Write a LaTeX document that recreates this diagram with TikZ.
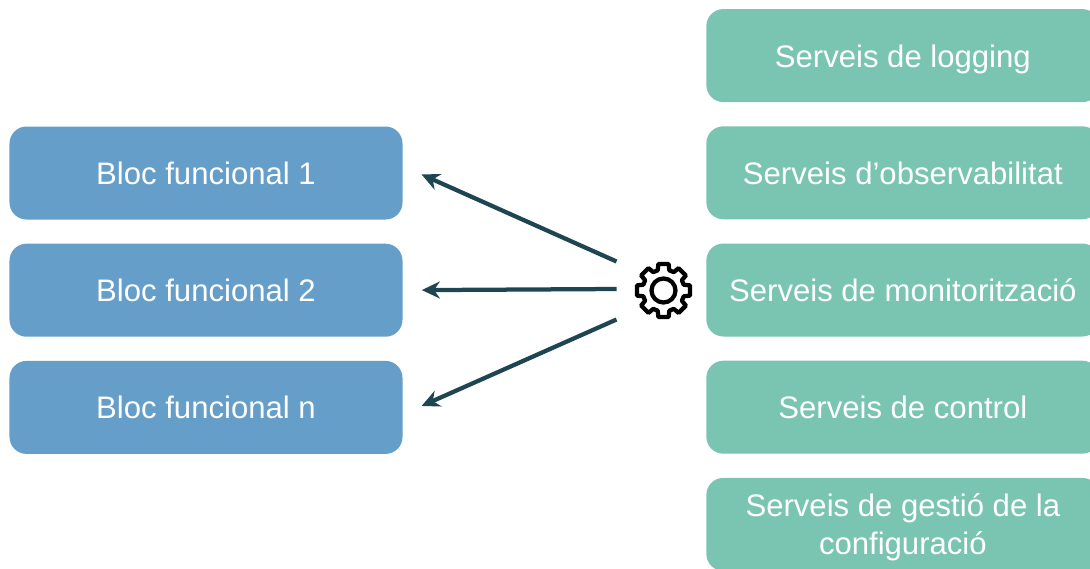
\documentclass[tikz,border=0pt]{standalone}
\usepackage{fontspec}
\setmainfont{Liberation Sans}
\definecolor{blocBlue}{RGB}{100,158,201}
\definecolor{serveiGreen}{RGB}{122,196,178}
\definecolor{arrowDark}{RGB}{31,68,82}
\usetikzlibrary{arrows.meta}
\usetikzlibrary{calc,shapes,positioning}

\begin{document}
\begin{tikzpicture}[font=\fontsize{17.7}{21.5}\selectfont,node distance=.47cm and 6cm,
          blocSmall/.style={
            rectangle,
            rounded corners=.34cm,
            align=center,
            text=white,
            text height=.5cm,
            text depth=.04cm,
            fill=blocBlue,
            minimum width=7.86cm,
            minimum height=1.86cm,
          inner sep=.1cm},
          servei/.style={
            rectangle,
            rounded corners=.34cm,
            align=center,
            text=white,
            text height=.5cm,
            text depth=.04cm,
            fill=serveiGreen,
            minimum width=7.86cm,
            minimum height=1.86cm,
          inner sep=.1cm},
          flow/.style={
            -{Stealth[length=.36cm,width=.34cm]},
            draw=arrowDark,
            line width=.085cm},
          gearLine/.style={
            draw=black,
            line width=.085cm,
            line join=round}]

          \useasboundingbox (0,0) rectangle (21.8,11.36);

          \node[blocSmall] (block1) at (4.12,7.9) {Bloc funcional 1};
          \node[blocSmall, below=of block1] (block2) {Bloc funcional 2};
          \node[blocSmall, below=of block2] (block3) {Bloc funcional n};

          \node[servei, anchor=west] (servei3) at (14.12,5.56) {Serveis de monitorització};
          \node[servei, above=of servei3] (servei2) {Serveis d’observabilitat};
          \node[servei, above=of servei2] (servei1) {Serveis de logging};
          \node[servei, below=of servei3] (servei4) {Serveis de control};
          \node[servei, below=of servei4, text height=, text depth=] (servei5) {\rule{0pt}{19pt}Serveis de gestió de la\\\strut configuració};

          % engranatge
          \node[circle, minimum size=1.16cm, inner sep=0pt] (gear) at (13.27,5.55) {};
          \draw[gearLine] ($(gear.center)+(-16:.42)$)
            \foreach \ang in {0,45,...,315} {
              -- ($(gear.center)+(\ang-16:.42)$)
              -- ($(gear.center)+(\ang-11:.54)$)
              -- ($(gear.center)+(\ang+11:.54)$)
              -- ($(gear.center)+(\ang+16:.42)$)
            } -- cycle;
          \draw[gearLine] (gear.center) circle (.24);

          \coordinate (start1) at ($(gear.center)+(-.94,.58)$);
          \coordinate (start2) at ($(gear.center)+(-.94,.03)$);
          \coordinate (start3) at ($(gear.center)+(-.94,-.58)$);

          \draw[flow, shorten >=.41cm] (start1) -- (block1.2);
          \draw[flow, shorten >=.38cm] (start2) -- (block2.east);
          \draw[flow, shorten >=.41cm] (start3) -- (block3.-2.6);
        \end{tikzpicture}
\end{document}
